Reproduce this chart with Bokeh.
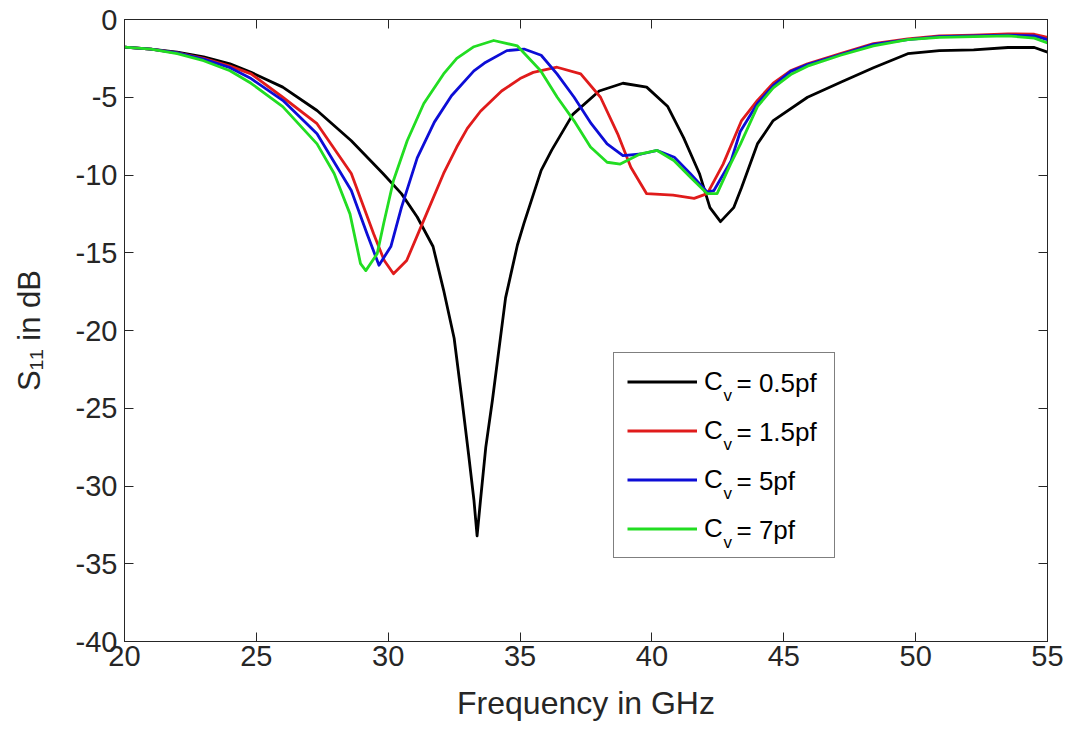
from bokeh.plotting import figure
from bokeh.models import (Range1d, LinearAxis, SingleIntervalTicker, Legend, LegendItem,
                          CustomJSTickFormatter)
from bokeh.core.properties import value
from bokeh.embed import file_html
from bokeh.resources import INLINE

# ---------------- data ----------------
freq_05 = [20, 21, 22, 23, 24, 24.8, 26.0, 27.3, 28.6, 29.8, 30.5, 31.1, 31.7, 32.1, 32.5, 32.8,
           33.05, 33.25, 33.37, 33.5, 33.7, 33.95, 34.2, 34.45, 34.9, 35.15, 35.8, 36.2, 37.0,
           38.0, 38.9, 39.8, 40.6, 41.2, 41.8, 42.2, 42.6, 43.1, 43.4, 44.0, 44.6, 45.9, 47.2,
           48.4, 49.7, 50.9, 52.2, 53.5, 54.5, 55]
s11_05 = [-1.78, -1.9, -2.1, -2.4, -2.85, -3.4, -4.35, -5.85, -7.8, -9.9, -11.2, -12.7, -14.6,
          -17.4, -20.5, -24.5, -28.0, -30.9, -33.2, -30.9, -27.5, -24.5, -21.2, -17.9, -14.5,
          -13.1, -9.7, -8.4, -6.1, -4.6, -4.1, -4.35, -5.6, -7.6, -9.9, -12.1, -13.0, -12.1,
          -10.8, -8.0, -6.5, -5.0, -4.0, -3.1, -2.2, -2.0, -1.95, -1.8, -1.8, -2.1]

freq_15 = [20, 21, 22, 23, 24, 24.8, 26.0, 27.3, 28.6, 29.45, 29.85, 30.2, 30.7, 31.35, 32.1,
           32.6, 33.0, 33.5, 34.3, 35.0, 35.5, 36.4, 37.3, 38.05, 38.7, 39.2, 39.8, 40.8, 41.6,
           42.1, 42.7, 43.4, 44.0, 44.6, 45.25, 45.9, 47.15, 48.4, 49.7, 50.9, 52.2, 53.5, 54.5, 55]
s11_15 = [-1.78, -1.9, -2.15, -2.5, -3.0, -3.5, -5.0, -6.7, -9.9, -13.8, -15.5, -16.35, -15.5,
          -12.9, -9.9, -8.2, -7.0, -5.9, -4.6, -3.8, -3.4, -3.07, -3.5, -5.0, -7.35, -9.5, -11.2,
          -11.3, -11.5, -11.2, -9.3, -6.5, -5.2, -4.1, -3.3, -2.85, -2.2, -1.55, -1.25, -1.05,
          -1.0, -0.92, -0.95, -1.15]

freq_5 = [20, 21, 22, 23, 24, 24.8, 26.0, 27.3, 28.6, 29.2, 29.65, 30.1, 30.5, 31.1, 31.75,
          32.4, 33.25, 33.65, 34.5, 35.15, 35.8, 36.4, 37.05, 37.7, 38.3, 38.9, 39.6, 40.2,
          40.85, 41.45, 42.1, 42.35, 43.0, 43.35, 44.0, 44.6, 45.25, 45.9, 47.15, 48.4, 49.7,
          50.9, 52.2, 53.5, 54.5, 55]
s11_5 = [-1.78, -1.9, -2.15, -2.55, -3.1, -3.8, -5.2, -7.35, -11.0, -13.8, -15.8, -14.6, -12.1,
         -8.9, -6.6, -4.9, -3.3, -2.8, -2.0, -1.9, -2.3, -3.5, -5.0, -6.7, -8.0, -8.75, -8.65,
         -8.42, -8.86, -9.9, -11.1, -11.0, -9.1, -7.2, -5.4, -4.25, -3.35, -2.9, -2.25, -1.6,
         -1.3, -1.1, -1.05, -1.0, -1.05, -1.3]

freq_7 = [20, 21, 22, 23, 24, 24.8, 26.0, 27.3, 27.95, 28.55, 28.95, 29.15, 29.58, 29.83, 30.2,
          30.72, 31.35, 32.1, 32.6, 33.25, 34.0, 34.9, 35.78, 36.41, 37.04, 37.67, 38.3, 38.8,
          39.57, 40.2, 40.83, 41.46, 42.1, 42.47, 42.98, 43.36, 44.0, 44.6, 45.3, 45.9, 47.15,
          48.4, 49.7, 50.9, 52.2, 53.5, 54.5, 55]
s11_7 = [-1.78, -1.9, -2.2, -2.65, -3.3, -4.1, -5.6, -8.0, -9.9, -12.5, -15.7, -16.15, -15.07,
         -13.1, -10.35, -7.8, -5.4, -3.5, -2.5, -1.75, -1.35, -1.7, -3.3, -5.0, -6.5, -8.2, -9.18,
         -9.3, -8.64, -8.42, -9.07, -10.14, -11.2, -11.2, -9.3, -8.0, -5.6, -4.4, -3.5, -3.0,
         -2.3, -1.7, -1.3, -1.15, -1.1, -1.05, -1.2, -1.5]

series_names = ["0.5pf", "1.5pf", "5pf", "7pf"]
series_freq = [freq_05, freq_15, freq_5, freq_7]
series_s11 = [s11_05, s11_15, s11_5, s11_7]
series_colors = ["#000000", "#e01b1b", "#0d0dd6", "#22dd22"]

x_label = "Frequency in GHz"
y_label = "S\u2081\u2081 in dB"

# ---------------- layout constants ----------------
W, H = 1069, 738
FL, FR, FT, FB = 124, 1047, 19, 641
X0, X1, Y0, Y1 = 20, 55, -40, 0
FONT = "Liberation Sans"
AX_COLOR = "#262626"


def to_data(px, py):
    x = X0 + (px - FL) * (X1 - X0) / (FR - FL)
    y = Y1 - (py - FT) * (Y1 - Y0) / (FB - FT)
    return x, y


p = figure(width=W, height=H, output_backend="svg", toolbar_location=None,
           x_range=Range1d(X0, X1), y_range=Range1d(Y0, Y1),
           min_border_left=FL, min_border_right=W - FR,
           min_border_top=FT, min_border_bottom=H - FB)
p.grid.visible = False
p.outline_line_color = AX_COLOR
p.background_fill_color = "white"
p.border_fill_color = "white"

fmt = CustomJSTickFormatter(code="return tick.toString();")
blank_fmt = CustomJSTickFormatter(code="return '';")


def style_axis(ax, show_labels):
    ax.ticker = SingleIntervalTicker(interval=5, num_minor_ticks=0)
    ax.major_tick_in = 9
    ax.major_tick_out = 0
    ax.minor_tick_in = 0
    ax.minor_tick_out = 0
    ax.axis_line_color = AX_COLOR
    ax.major_tick_line_color = AX_COLOR
    ax.major_label_text_font = FONT
    ax.major_label_text_color = AX_COLOR
    if show_labels:
        ax.formatter = fmt
        ax.major_label_text_font_size = "29px"
    else:
        ax.formatter = blank_fmt
        ax.major_label_text_font_size = "10px"
        ax.major_label_standoff = 0


style_axis(p.xaxis[0], True)
style_axis(p.yaxis[0], True)
p.xaxis.major_label_standoff = 4
p.yaxis.major_label_standoff = 7

p.xaxis.axis_label = x_label
p.xaxis.axis_label_text_font = FONT
p.xaxis.axis_label_text_font_size = "32px"
p.xaxis.axis_label_text_font_style = "normal"
p.xaxis.axis_label_text_color = AX_COLOR
p.xaxis.axis_label_standoff = 16

p.yaxis.axis_label = y_label
p.yaxis.axis_label_text_font = FONT
p.yaxis.axis_label_text_font_size = "31px"
p.yaxis.axis_label_text_font_style = "normal"
p.yaxis.axis_label_text_color = AX_COLOR
p.yaxis.axis_label_standoff = 26

top_ax = LinearAxis()
right_ax = LinearAxis()
style_axis(top_ax, False)
style_axis(right_ax, False)
p.add_layout(top_ax, "above")
p.add_layout(right_ax, "right")

renderers = []
for fx, sy, col in zip(series_freq, series_s11, series_colors):
    r = p.line(fx, sy, line_color=col, line_width=2.8, line_join="round")
    renderers.append(r)

# legend (glyph samples come from the real renderers); transparent so that the
# subscript / value texts drawn below it stay visible
legend = Legend(items=[LegendItem(label="C", renderers=[r]) for r in renderers],
                location=(613 - FL, FB - 558), padding=13, spacing=18,
                glyph_width=70, glyph_height=31, label_height=31, label_width=117,
                label_standoff=7, margin=0,
                border_line_color="#000000", border_line_width=1,
                label_text_font=FONT, label_text_font_size="26px",
                label_text_color="#000000", background_fill_alpha=0.0)
p.add_layout(legend)

# subscript "v" and "= value" next to each legend "C"
row0 = 354 + 13 + 15.5
sub_x, sub_y, eq_x, eq_y, eq_t = [], [], [], [], []
for i, name in enumerate(series_names):
    rc = row0 + i * 49
    sx, sy = to_data(723, rc + 12)
    ex, ey = to_data(736, rc)
    sub_x.append(sx); sub_y.append(sy)
    eq_x.append(ex); eq_y.append(ey); eq_t.append("= " + name)

p.text(x=sub_x, y=sub_y, text=["v"] * len(sub_x), text_font=value(FONT),
       text_font_size=value("17px"), text_color="#000000",
       text_baseline="middle", text_align="left")
p.text(x=eq_x, y=eq_y, text=eq_t, text_font=value(FONT),
       text_font_size=value("26px"), text_color="#000000",
       text_baseline="middle", text_align="left")

open("out.html", "w").write(file_html(p, INLINE))
